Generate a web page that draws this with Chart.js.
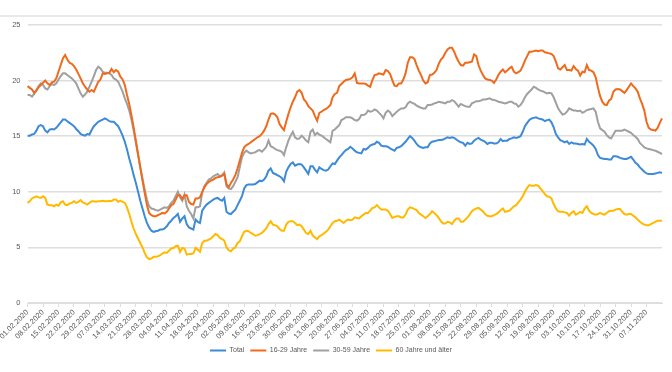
<!DOCTYPE html>
<html>
<head>
<meta charset="utf-8">
<script src="https://cdn.jsdelivr.net/npm/chart.js@4.4.1/dist/chart.umd.min.js"></script>
<style>
  html, body { margin: 0; padding: 0; background: #fff; }
  #wrap { width: 672px; height: 372px; position: relative; }
</style>
</head>
<body>
<div id="wrap"><canvas id="chart" width="672" height="372"></canvas></div>
<script>
// Daily values, 01.02.2020 - 14.11.2020
const startDate = new Date(2020, 1, 1);
const dayCount = 288;

const total = [
  15.05, 15.05, 15.15, 15.2, 15.5, 15.9, 16.0, 15.9, 15.5, 15.35,
  15.6, 15.65, 15.6, 15.75, 16.0, 16.25, 16.5, 16.5, 16.35, 16.2,
  16.05, 15.9, 15.65, 15.45, 15.2, 15.1, 15.05, 15.2, 15.15, 15.55,
  15.9, 16.1, 16.3, 16.4, 16.5, 16.6, 16.5, 16.35, 16.3, 16.3,
  16.1, 15.9, 15.5, 15.05, 14.5, 13.8, 13.0, 12.3, 11.5, 10.8,
  10.0, 9.2, 8.5, 7.8, 7.2, 6.8, 6.5, 6.4, 6.45, 6.5,
  6.6, 6.6, 6.7, 6.9, 7.2, 7.4, 7.65, 7.8, 8.0, 7.3,
  7.6, 7.8, 7.1, 6.8, 6.7, 6.6, 7.5, 7.3, 7.2, 8.3,
  8.6, 8.85, 9.0, 9.15, 9.3, 9.4, 9.45, 9.3, 9.2, 9.45,
  8.2, 8.05, 8.0, 8.2, 8.4, 8.8, 9.2, 9.6, 10.3, 10.6,
  10.65, 10.65, 10.65, 10.7, 10.85, 11.0, 10.95, 11.1, 11.4, 11.9,
  12.1, 11.7, 11.6, 11.5, 11.4, 11.25, 10.95, 11.8, 12.2, 12.5,
  12.65, 12.35, 12.45, 12.5, 12.45, 12.2, 11.9, 11.6, 12.3, 12.3,
  12.0, 11.75, 12.2, 12.05, 11.95, 11.9, 12.0, 12.3, 12.55, 12.5,
  12.8, 13.1, 13.3, 13.55, 13.75, 13.85, 14.05, 13.9, 13.7, 13.55,
  13.5, 13.45, 13.85, 13.8, 13.95, 14.15, 14.25, 14.3, 14.5, 14.4,
  14.15, 14.1, 14.1, 14.05, 13.9, 13.8, 13.7, 13.95, 14.0, 14.1,
  14.3, 14.5, 14.75, 15.0, 14.85, 14.6, 14.3, 14.1, 14.0, 13.95,
  14.0, 14.0, 14.35, 14.5, 14.55, 14.6, 14.65, 14.65, 14.7, 14.8,
  14.9, 14.85, 14.9, 14.85, 14.7, 14.55, 14.45, 14.4, 14.15, 14.4,
  14.3, 14.35, 14.6, 14.75, 14.85, 14.7, 14.6, 14.5, 14.3, 14.4,
  14.4, 14.35, 14.35, 14.45, 14.75, 14.55, 14.6, 14.6, 14.75, 14.8,
  14.9, 14.85, 14.9, 15.0, 15.4, 15.9, 16.2, 16.45, 16.6, 16.65,
  16.7, 16.6, 16.55, 16.5, 16.35, 16.45, 16.5, 16.25, 15.8, 15.2,
  14.9, 14.65, 14.55, 14.45, 14.55, 14.3, 14.45, 14.35, 14.35, 14.3,
  14.25, 14.3, 14.25, 14.75, 14.5, 14.35, 14.15, 13.85, 13.3, 13.05,
  13.0, 12.95, 12.95, 12.9, 12.9, 13.2, 13.2, 13.15, 13.05, 13.0,
  12.95, 12.95, 13.05, 13.15, 12.9, 12.6, 12.45, 12.2, 12.0, 11.8,
  11.65, 11.6, 11.6, 11.6, 11.65, 11.7, 11.75, 11.7
];

const age16to29 = [
  19.5, 19.35, 19.2, 18.9, 19.1, 19.4, 19.6, 19.8, 20.0, 19.75,
  19.6, 19.85, 19.9, 20.2, 20.8, 21.4, 22.0, 22.3, 21.9, 21.6,
  21.5, 21.3, 21.0, 20.6, 20.2, 19.75, 19.45, 19.2, 19.0, 19.15,
  19.0, 19.45, 19.9, 20.1, 20.65, 20.6, 20.65, 20.7, 21.05, 20.75,
  20.95, 20.8, 20.35, 20.1, 19.6, 18.7, 17.9, 16.9, 15.8, 14.6,
  13.4, 12.2, 11.0, 9.9, 8.8, 8.1, 7.9, 7.8, 7.8, 7.9,
  8.0, 8.1, 8.05, 8.2, 8.5, 8.8, 8.9, 9.3, 9.7, 9.7,
  9.35, 9.7, 9.7, 9.1, 8.9, 8.85, 9.4, 9.4, 9.5, 10.0,
  10.4, 10.7, 10.9, 11.0, 11.1, 11.25, 11.3, 11.35, 11.45, 11.6,
  10.7, 10.4, 10.8, 11.1, 11.5, 12.1, 12.8, 13.5, 14.0, 14.2,
  14.3, 14.45, 14.6, 14.75, 14.9, 15.0, 15.2, 15.5, 15.9, 16.5,
  17.0, 17.05, 16.95, 16.7, 16.1, 15.8, 15.55, 16.3, 17.0, 17.6,
  18.1, 18.5, 19.0, 19.15, 18.9, 18.3, 18.1, 17.7, 17.5, 17.3,
  16.8, 16.4, 17.1, 17.2, 17.35, 17.45, 17.6, 17.8, 18.5, 18.8,
  18.9, 19.5, 19.7, 19.9, 20.05, 20.1, 20.15, 20.3, 20.65, 19.8,
  19.75, 19.75, 19.75, 19.7, 19.55, 19.45, 20.05, 20.5, 20.55, 20.65,
  20.6, 20.55, 20.95, 20.85, 20.6, 20.05, 19.55, 19.5, 19.75, 19.75,
  20.1, 20.65, 21.6, 22.1, 22.1, 21.95, 21.4, 20.9, 20.5, 20.0,
  19.75, 19.85, 20.5, 20.55, 20.7, 20.95, 21.5, 21.9, 22.1, 22.5,
  22.8, 22.95, 22.95, 22.6, 22.1, 21.7, 21.4, 21.35, 21.6, 21.6,
  21.65, 21.7, 22.35, 22.2, 21.4, 20.9, 20.5, 20.2, 20.1, 20.05,
  20.0, 19.8, 20.1, 20.5, 20.8, 21.0, 20.75, 20.9, 21.1, 21.25,
  20.8, 20.65, 20.75, 20.9, 21.3, 21.8, 22.2, 22.6, 22.6, 22.65,
  22.7, 22.65, 22.7, 22.7, 22.55, 22.5, 22.45, 22.4, 22.2, 21.7,
  21.1, 21.0, 21.2, 21.4, 20.95, 20.95, 20.9, 21.3, 21.05, 20.9,
  20.45, 20.8, 20.75, 21.4, 20.95, 20.9, 20.75, 20.3, 19.4, 18.6,
  18.1, 17.85, 17.8, 18.2, 18.35, 19.0, 19.2, 19.25, 19.2, 19.05,
  18.9, 19.15, 19.45, 19.75, 19.5, 19.3, 19.0, 18.4, 17.9, 17.3,
  16.3, 15.75, 15.6, 15.55, 15.5, 15.75, 16.2, 16.6
];

const age30to59 = [
  18.7, 18.7, 18.55, 18.8, 19.15, 19.5, 19.75, 19.6, 19.3, 19.2,
  19.5, 19.7, 19.6, 19.75, 20.1, 20.4, 20.65, 20.65, 20.5, 20.35,
  20.2, 20.0, 19.75, 19.3, 18.85, 18.55, 18.75, 19.0, 19.45, 19.9,
  20.4, 20.95, 21.25, 21.1, 20.8, 20.7, 20.7, 20.65, 20.5, 20.2,
  20.1, 19.9, 19.45, 19.0, 18.4, 17.9, 17.3, 16.5, 15.5, 14.4,
  13.3, 12.2, 11.2, 10.2, 9.3, 8.7, 8.5, 8.45, 8.35, 8.3,
  8.4, 8.5, 8.6, 8.55, 8.7, 9.0, 9.2, 9.6, 10.0, 9.5,
  9.2, 9.75, 8.7, 8.3, 8.0, 7.6, 8.6, 8.6, 8.7, 9.9,
  10.5, 10.8, 11.1, 11.2, 11.4, 11.5, 11.6, 11.4, 11.5, 11.75,
  10.5, 10.3, 10.25, 10.5, 10.9, 11.3, 12.2, 13.1, 13.5, 13.7,
  13.55, 13.45, 13.5, 13.55, 13.7, 13.75, 13.6, 13.8, 14.05, 14.6,
  14.1, 14.0, 13.85, 13.75, 13.7, 13.6, 13.3, 14.0, 14.6, 15.05,
  15.4, 14.9, 14.75, 14.8, 15.05, 14.85, 14.6, 14.45, 15.4, 15.6,
  15.1, 15.3, 15.15, 15.05, 14.9, 14.75, 14.6, 14.45, 15.5, 15.6,
  15.8, 16.0, 16.45, 16.55, 16.7, 16.7, 16.7, 16.6, 16.45, 16.4,
  16.55, 16.9, 16.9, 17.0, 17.3, 17.2, 17.25, 17.4, 17.3, 17.1,
  16.9, 16.6, 17.1, 17.3, 17.15, 16.8, 17.0, 17.2, 17.35, 17.5,
  17.5, 17.6, 17.95, 18.1, 18.0, 17.9, 17.75, 17.65, 17.55, 17.5,
  17.5, 17.8, 17.8, 17.85, 17.95, 18.0, 18.1, 18.05, 18.0, 17.95,
  18.1, 18.1, 18.25, 18.15, 17.9, 17.65, 17.9, 17.8, 17.7, 17.65,
  17.65, 17.95, 18.05, 18.15, 18.15, 18.2, 18.3, 18.3, 18.35, 18.4,
  18.3, 18.25, 18.2, 18.1, 18.05, 18.0, 17.95, 18.0, 18.1, 18.1,
  17.95, 17.9, 17.65, 17.8, 18.1, 18.5, 18.8, 19.0, 19.2, 19.45,
  19.35, 19.2, 19.1, 19.05, 18.95, 18.85, 18.9, 18.85, 18.5, 18.0,
  17.5, 17.2, 16.95, 17.0, 17.2, 17.5, 17.4, 17.3, 17.3, 17.25,
  17.3, 17.1, 17.2, 17.35, 17.4, 17.45, 17.5, 17.2, 16.3, 15.7,
  15.55, 15.4, 15.1, 14.9, 14.8, 15.15, 15.5, 15.5, 15.5, 15.5,
  15.6, 15.5, 15.4, 15.3, 15.1, 14.95, 14.75, 14.4, 14.2, 14.0,
  13.9, 13.85, 13.8, 13.75, 13.7, 13.6, 13.5, 13.4
];

const age60plus = [
  9.0, 9.15, 9.4, 9.5, 9.6, 9.5, 9.45, 9.6, 9.45, 8.85,
  8.8, 8.8, 8.7, 8.85, 8.75, 9.05, 9.15, 8.85, 8.8, 8.95,
  9.0, 9.15, 9.0, 9.1, 9.25, 9.05, 8.95, 8.85, 9.0, 9.15,
  9.15, 9.1, 9.15, 9.15, 9.2, 9.15, 9.15, 9.2, 9.15, 9.3,
  9.3, 9.1, 9.2, 9.1, 9.0, 8.6, 8.0, 7.3, 6.7, 6.2,
  5.8, 5.4, 5.0, 4.5, 4.1, 3.95, 4.0, 4.15, 4.15, 4.2,
  4.3, 4.45, 4.55, 4.5, 4.7, 4.9, 4.95, 5.1, 5.15, 4.6,
  4.95, 4.9, 4.35, 4.4, 4.4, 4.45, 4.95, 4.8, 4.6, 5.4,
  5.6, 5.6, 5.7, 5.8, 6.0, 6.2, 6.1, 5.85, 5.75, 5.6,
  5.0, 4.75, 4.65, 4.9, 5.0, 5.4, 5.55, 6.0, 6.4, 6.5,
  6.45, 6.3, 6.2, 6.05, 6.1, 6.2, 6.3, 6.5, 6.7, 7.1,
  7.35, 7.05, 7.0, 6.9, 6.65, 6.5, 6.5, 7.05, 7.3, 7.35,
  7.35, 7.2, 7.0, 7.05, 6.9, 6.6, 6.3, 6.2, 6.5, 6.05,
  5.9, 5.75, 6.0, 6.1, 6.25, 6.4, 6.6, 6.9, 7.2, 7.35,
  7.4, 7.5, 7.35, 7.2, 7.4, 7.5, 7.45, 7.5, 7.7, 7.65,
  7.6, 7.8, 7.95, 8.1, 8.1, 8.3, 8.55, 8.6, 8.8, 8.6,
  8.4, 8.4, 8.4, 8.3, 8.0, 7.65, 7.75, 7.8, 7.8, 7.7,
  7.7, 7.95, 8.4, 8.6, 8.55, 8.45, 8.35, 8.1, 7.95, 7.8,
  7.65, 7.8, 8.0, 8.25, 8.1, 7.9, 7.65, 7.35, 7.15, 7.15,
  7.3, 7.25, 7.1, 7.4, 7.6, 7.6, 7.3, 7.3, 7.5, 7.7,
  7.95, 8.25, 8.4, 8.5, 8.55, 8.4, 8.25, 8.0, 7.85, 7.8,
  7.8, 7.9, 8.0, 8.15, 8.35, 8.5, 8.2, 8.25, 8.3, 8.5,
  8.7, 8.8, 9.05, 9.3, 9.6, 10.0, 10.35, 10.6, 10.55, 10.55,
  10.6, 10.55, 10.3, 10.05, 9.8, 9.6, 9.55, 9.4, 8.9, 8.5,
  8.25, 8.2, 8.2, 8.15, 8.1, 7.85, 8.1, 8.25, 7.95, 8.05,
  8.2, 8.1, 8.5, 8.7, 8.3, 8.1, 8.0, 7.95, 8.0, 8.1,
  8.0, 7.95, 8.1, 8.25, 8.3, 8.3, 8.4, 8.45, 8.45, 8.2,
  8.0, 7.95, 8.0, 8.0, 7.85, 7.7, 7.5, 7.3, 7.15, 7.05,
  7.0, 7.0, 7.1, 7.2, 7.3, 7.4, 7.4, 7.4
];

const seriesNames = ['Total', '16-29 Jahre', '30-59 Jahre', '60 Jahre und älter'];
const seriesColors = ['#3D8AD8', '#F06A1C', '#A0A0A0', '#FFBA00'];
const yTicks = [0, 5, 10, 15, 20, 25];

// dd.mm.yyyy labels, one per day
const labels = [];
for (let i = 0; i < dayCount; i++) {
  const d = new Date(startDate);
  d.setDate(d.getDate() + i);
  const dd = String(d.getDate()).padStart(2, '0');
  const mm = String(d.getMonth() + 1).padStart(2, '0');
  labels.push(dd + '.' + mm + '.' + d.getFullYear());
}

const font = { family: 'Liberation Sans, Arial, sans-serif', size: 7.5 };
const textColor = '#595959';
const gridColor = '#dedede';

// light frame line at the top of the chart
const topLine = {
  id: 'topLine',
  beforeDraw(chart) {
    const ctx = chart.ctx;
    ctx.save();
    ctx.strokeStyle = '#e2e2e2';
    ctx.lineWidth = 1.5;
    ctx.beginPath();
    ctx.moveTo(0, 16);
    ctx.lineTo(chart.width, 16);
    ctx.stroke();
    ctx.restore();
  }
};

const values = [total, age16to29, age30to59, age60plus];

new Chart(document.getElementById('chart'), {
  type: 'line',
  data: {
    labels: labels,
    datasets: values.map((v, i) => ({
      label: seriesNames[i],
      data: v,
      borderColor: seriesColors[i],
      backgroundColor: seriesColors[i],
      borderWidth: 2,
      pointRadius: 0,
      tension: 0
    }))
  },
  options: {
    responsive: false,
    animation: false,
    layout: { padding: { top: 25, right: 10, left: 0, bottom: 8 } },
    plugins: {
      legend: {
        position: 'bottom',
        labels: {
          usePointStyle: true,
          pointStyle: 'line',
          pointStyleWidth: 16,
          boxHeight: 7,
          padding: 6,
          color: textColor,
          font: { family: font.family, size: 7 }
        }
      },
      tooltip: { enabled: false }
    },
    scales: {
      x: {
        // one tick per week, the last day gets none
        afterBuildTicks: scale => {
          scale.ticks = scale.ticks.filter(t => t.value % 7 === 0 && t.value < dayCount - 1);
        },
        afterFit: scale => { scale.height = 38; },
        ticks: {
          autoSkip: false,
          maxRotation: 45,
          minRotation: 45,
          padding: 1,
          color: textColor,
          font: font
        },
        grid: { drawOnChartArea: false, drawTicks: true, tickLength: 4, color: gridColor },
        border: { display: true, color: gridColor }
      },
      y: {
        min: 0,
        max: 25,
        afterBuildTicks: scale => {
          scale.ticks = yTicks.map(v => ({ value: v }));
        },
        afterFit: scale => { scale.width = 27; },
        ticks: { padding: 7, color: textColor, font: font },
        grid: { color: gridColor, lineWidth: 1.5, drawTicks: false },
        border: { display: false }
      }
    }
  },
  plugins: [topLine]
});
</script>
</body>
</html>
